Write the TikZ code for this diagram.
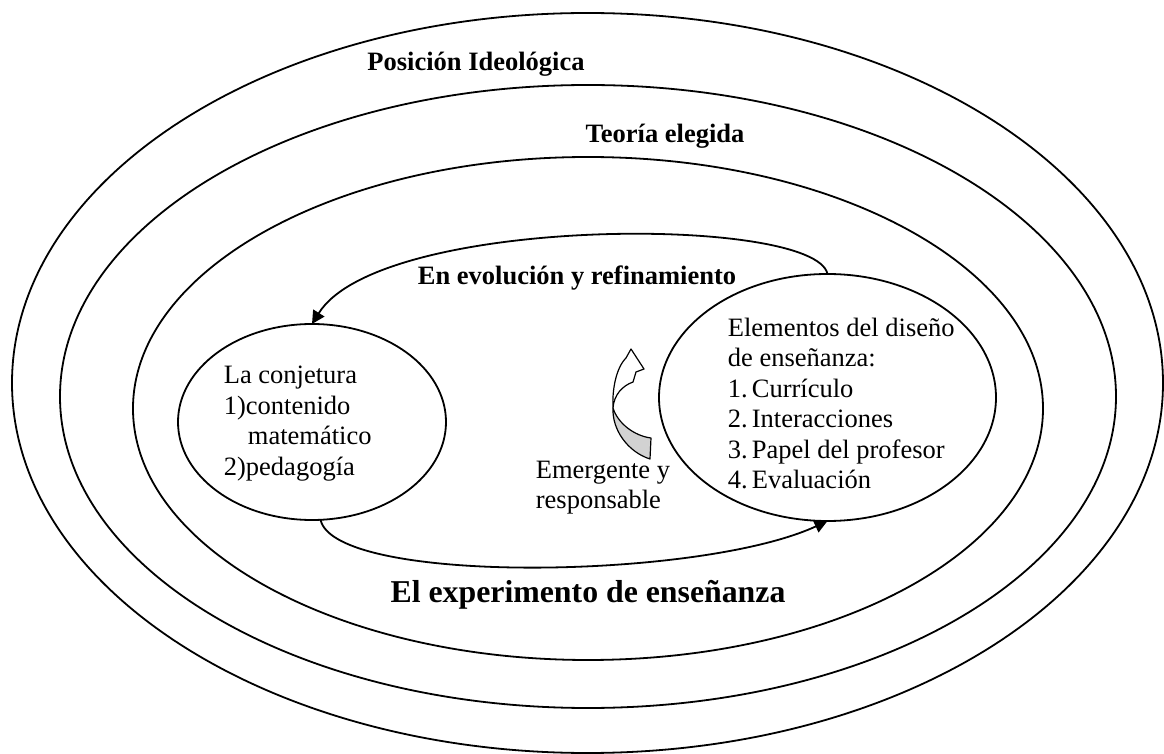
\documentclass[tikz,border=0pt]{standalone}
\usepackage{fontspec}
\setmainfont{Liberation Serif}
\usetikzlibrary{shapes.geometric,arrows.meta}
\begin{document}
\begin{tikzpicture}[x=0.5pt,y=-0.5pt,
  line width=0.9pt,
  ell/.style={ellipse,draw,inner sep=0pt,outer sep=0pt},
  txt/.style={inner sep=0pt,anchor=base west,font=\fontsize{13.25pt}{15pt}\selectfont},
  ttl/.style={inner sep=0pt,anchor=base,font=\fontsize{13.25pt}{15pt}\selectfont\bfseries},
  big/.style={inner sep=0pt,anchor=base,font=\fontsize{15.9pt}{18pt}\selectfont\bfseries},
  conn/.style={-{Triangle[length=6.5pt,width=6.5pt]}},
  blockarrow/.style={line width=0.6pt,line join=round}
  ]
\useasboundingbox (0,0) rectangle (1164,754);
% nested ellipses
\node[ell,minimum width=575.5pt,minimum height=370pt] (e1) at (587.5,383) {};
\node[ell,minimum width=528pt,minimum height=311.5pt] (e2) at (588,396.5) {};
\node[ell,minimum width=455pt,minimum height=251.5pt] (e3) at (588,408.5) {};
% inner ellipses
\node[ell,minimum width=134pt,minimum height=98pt] (conj) at (312,422) {};
\node[ell,minimum width=168.5pt,minimum height=123.5pt] (elem) at (827.5,397.5) {};
% titles
\node[ttl] (tpos) at (476,70.5) {Posición Ideológica};
\node[ttl] (tteo) at (665,143) {Teoría elegida};
\node[ttl] (tevo) at (577,285) {En evolución y refinamiento};
\node[big] (texp) at (588,603) {El experimento de enseñanza};
% conjecture text
\node[txt] (c1) at (223,384) {La conjetura};
\node[txt] (c2) at (223,414.5) {1)contenido};
\node[txt] (c3) at (247,445) {matemático};
\node[txt] (c4) at (223,476) {2)pedagogía};
% elements text
\node[txt] (d1) at (727,336.5) {Elementos del diseño};
\node[txt] (d2) at (727,367) {de enseñanza:};
\node[txt] (n1) at (727,397.5) {1.};
\node[txt] (l1) at (751,397.5) {Currículo};
\node[txt] (n2) at (727,428) {2.};
\node[txt] (l2) at (751,428) {Interacciones};
\node[txt] (n3) at (727,458.5) {3.};
\node[txt] (l3) at (751,458.5) {Papel del profesor};
\node[txt] (n4) at (727,489) {4.};
\node[txt] (l4) at (751,489) {Evaluación};
% emergent text
\node[txt] (m1) at (535,478.5) {Emergente y};
\node[txt] (m2) at (535,508.5) {responsable};
% connectors
\draw[conn] (elem.north) .. controls (815,215) and (380,215) .. (conj.north);
\draw[conn] (conj.-85) .. controls (335,585) and (700,580) .. (elem.south);
% curved block arrow
\draw[blockarrow,fill=white] (626,358) -- (631,349) -- (644,369) -- (636,372) -- (633,382)
  .. controls (622,386) and (614,395) .. (613,408)
  .. controls (612,390) and (616,368) .. (626,358) -- cycle;
\draw[blockarrow,fill=gray!35] (613,408) .. controls (612,430) and (628,452) .. (650,459)
  -- (651,438) .. controls (635,436) and (618,424) .. (613,408) -- cycle;
\end{tikzpicture}
\end{document}
